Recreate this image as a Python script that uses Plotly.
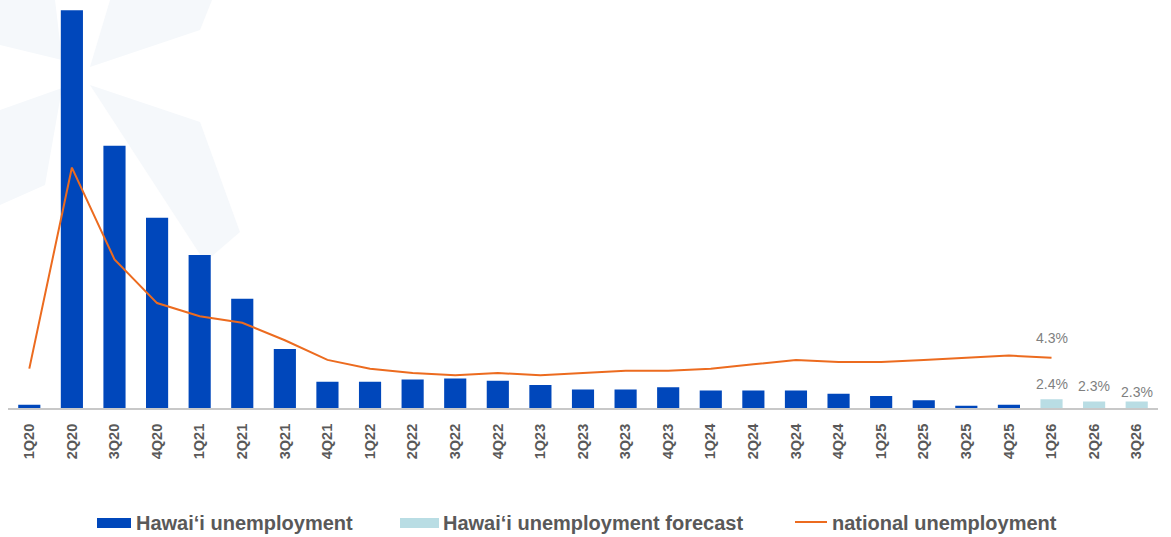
import plotly.graph_objects as go

# ---------------- data ----------------
quarters = ["1Q20", "2Q20", "3Q20", "4Q20", "1Q21", "2Q21", "3Q21", "4Q21",
            "1Q22", "2Q22", "3Q22", "4Q22", "1Q23", "2Q23", "3Q23", "4Q23",
            "1Q24", "2Q24", "3Q24", "4Q24", "1Q25", "2Q25", "3Q25", "4Q25",
            "1Q26", "2Q26", "3Q26"]

hawaii_quarters = quarters[:24]
hawaii_unemployment = [2.15, 20.2, 14.0, 10.7, 9.0, 7.0, 4.7, 3.2,
                       3.2, 3.3, 3.35, 3.25, 3.05, 2.85, 2.85, 2.95,
                       2.8, 2.8, 2.8, 2.65, 2.55, 2.35, 2.1, 2.15]

forecast_quarters = quarters[24:]
hawaii_forecast = [2.4, 2.3, 2.3]

national_quarters = quarters[:25]
national_unemployment = [3.8, 13.0, 8.8, 6.8, 6.2, 5.9, 5.1, 4.2,
                         3.8, 3.6, 3.5, 3.6, 3.5, 3.6, 3.7, 3.7,
                         3.8, 4.0, 4.2, 4.1, 4.1, 4.2, 4.3, 4.4, 4.3]

legend_labels = ["Hawai‘i unemployment", "Hawai‘i unemployment forecast",
                 "national unemployment"]

# ---------------- style ----------------
W, H = 1171, 537
ML, MR, MT, MB = 8, 13, 8, 129
PW, PH = W - ML - MR, H - MT - MB
DARK = "#0047BB"
LIGHT = "#B9DDE4"
ORANGE = "#EC6B1F"
TXT = "#595959"
LBL = "#7F7F7F"
FONT = "Liberation Sans, Arial, sans-serif"


def px_x(px):
    return (px - ML) / PW


def px_y(py):
    return (MT + PH - py) / PH


fig = go.Figure()

fig.add_trace(go.Bar(x=hawaii_quarters, y=hawaii_unemployment, marker_color=DARK,
                     marker_line_width=0, name=legend_labels[0], showlegend=False))
fig.add_trace(go.Bar(x=forecast_quarters, y=hawaii_forecast, marker_color=LIGHT,
                     marker_line_width=0, name=legend_labels[1], showlegend=False))
fig.add_trace(go.Scatter(x=national_quarters, y=national_unemployment, mode="lines",
                         line=dict(color=ORANGE, width=2), name=legend_labels[2],
                         showlegend=False))

annotations = []
# forecast bar labels
label_shift = [5, 5, -1]
for q, v, s in zip(forecast_quarters, hawaii_forecast, label_shift):
    annotations.append(dict(x=q, y=v, xref="x", yref="y", text=f"{v}%",
                            showarrow=False, yanchor="bottom", yshift=s,
                            font=dict(family=FONT, size=14, color=LBL)))
# last national value label
annotations.append(dict(x=national_quarters[-1], y=national_unemployment[-1],
                        xref="x", yref="y", text=f"{national_unemployment[-1]}%",
                        showarrow=False, yanchor="middle", yshift=20,
                        font=dict(family=FONT, size=14, color=LBL)))

# manual legend
shapes = []
leg_y = 523
leg_items = [
    (97, 131, 134, "rect", DARK),
    (400, 439, 441, "rect", LIGHT),
    (795, 827, 830, "line", ORANGE),
]
for (x0, x1, tx, kind, col), lab in zip(leg_items, legend_labels):
    if kind == "rect":
        shapes.append(dict(type="rect", xref="paper", yref="paper",
                           x0=px_x(x0), x1=px_x(x1), y0=px_y(leg_y + 5), y1=px_y(leg_y - 5),
                           fillcolor=col, line_width=0))
    else:
        shapes.append(dict(type="line", xref="paper", yref="paper",
                           x0=px_x(x0), x1=px_x(x1), y0=px_y(leg_y - 1), y1=px_y(leg_y - 1),
                           line=dict(color=col, width=2)))
    annotations.append(dict(x=px_x(tx), y=px_y(leg_y), xref="paper", yref="paper",
                            text=lab, showarrow=False, xanchor="left", yanchor="middle",
                            font=dict(family=FONT, size=20, color=TXT, weight="bold")))

# faint background logo petals (decoration)
petals = [
    [(110, 0), (212, 0), (200, 30), (90, 67)],
    [(0, 0), (55, 0), (62, 60), (0, 45)],
    [(0, 110), (62, 88), (45, 185), (0, 205)],
    [(90, 85), (200, 122), (240, 232), (205, 262)],
]
for pts in petals:
    path = "M " + " L ".join(f"{px_x(a):.4f},{px_y(b):.4f}" for a, b in pts) + " Z"
    shapes.append(dict(type="path", xref="paper", yref="paper", path=path,
                       fillcolor="#F5F8FB", line_width=0, layer="below"))

fig.update_layout(
    width=W, height=H,
    margin=dict(l=ML, r=MR, t=MT, b=MB, pad=0),
    paper_bgcolor="white", plot_bgcolor="rgba(0,0,0,0)",
    barmode="overlay", bargap=0.48,
    showlegend=False,
    font=dict(family=FONT, color=TXT),
    xaxis=dict(type="category", categoryorder="array", categoryarray=quarters,
               tickangle=-90, showgrid=False, zeroline=False,
               showline=True, linecolor="#C8C8C8", linewidth=2,
               ticks="", ticklabelstandoff=8,
               tickfont=dict(family=FONT, size=14.5, color=TXT, weight="bold")),
    yaxis=dict(range=[2.0, 20.3], visible=False, showgrid=False, zeroline=False),
    annotations=annotations,
    shapes=shapes,
)

fig.write_html("out.html", config={"displayModeBar": False},
               post_script="document.body.style.margin='0';document.body.style.padding='0';")
